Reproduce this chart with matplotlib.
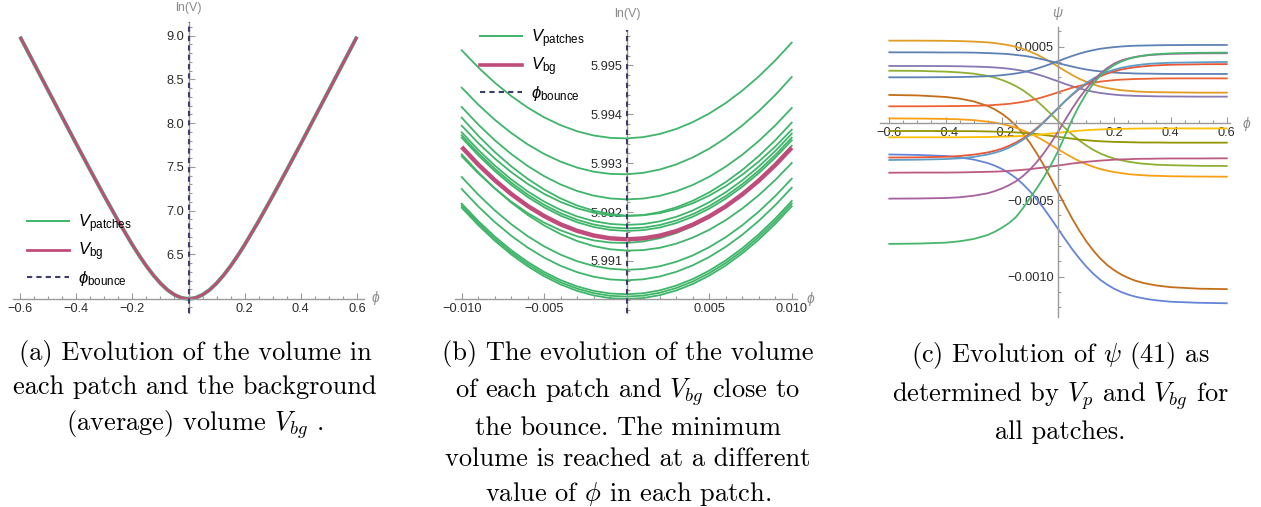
import matplotlib
matplotlib.use("Agg")
import matplotlib.pyplot as plt
from matplotlib.lines import Line2D
from matplotlib.ticker import MultipleLocator

plt.rcParams['font.family'] = ['Liberation Sans', 'DejaVu Sans']
plt.rcParams['mathtext.fontset'] = 'custom'
plt.rcParams['mathtext.rm'] = 'Liberation Sans'
plt.rcParams['mathtext.it'] = 'Liberation Sans:italic'
plt.rcParams['mathtext.fallback'] = 'stixsans'

# ---------------- data ----------------
phi_bounce = 0.0

# (a) ln(V) over the whole range (patches and background coincide here)
phi_a = [-0.6, -0.55, -0.5, -0.45, -0.4, -0.35, -0.3, -0.25, -0.2, -0.175, -0.15, -0.125,
         -0.1, -0.075, -0.05, -0.025, 0.0, 0.025, 0.05, 0.075, 0.1, 0.125, 0.15, 0.175,
         0.2, 0.25, 0.3, 0.35, 0.4, 0.45, 0.5, 0.55, 0.6]
lnv_a = [8.988, 8.682, 8.375, 8.070, 7.765, 7.464, 7.168, 6.881, 6.610, 6.484, 6.367, 6.262,
         6.170, 6.094, 6.038, 6.003, 5.991, 6.003, 6.038, 6.094, 6.170, 6.262, 6.367, 6.484,
         6.610, 6.881, 7.168, 7.464, 7.765, 8.070, 8.375, 8.682, 8.988]

# (b) close to the bounce: ln(V) - 5.99, in units of 1e-6
phi_b = [-0.010, -0.009, -0.008, -0.007, -0.006, -0.005, -0.004, -0.003, -0.002, -0.001, 0.0,
         0.001, 0.002, 0.003, 0.004, 0.005, 0.006, 0.007, 0.008, 0.009, 0.010]
patches_b = [
    [5307, 4958, 4646, 4372, 4135, 3936, 3775, 3651, 3565, 3517, 3506, 3532, 3596, 3698, 3838, 4015, 4229, 4482, 4772, 5099, 5464],
    [4543, 4197, 3888, 3617, 3383, 3187, 3029, 2908, 2825, 2780, 2772, 2802, 2869, 2974, 3116, 3296, 3514, 3769, 4062, 4393, 4761],
    [4148, 3790, 3469, 3186, 2941, 2733, 2563, 2430, 2335, 2278, 2258, 2276, 2331, 2424, 2554, 2722, 2928, 3171, 3452, 3771, 4127],
    [3930, 3561, 3229, 2935, 2678, 2459, 2277, 2133, 2027, 1958, 1927, 1934, 1978, 2060, 2179, 2336, 2530, 2762, 3032, 3339, 3684],
    [3766, 3412, 3095, 2816, 2575, 2371, 2205, 2077, 1986, 1933, 1917, 1939, 1998, 2095, 2230, 2402, 2612, 2860, 3145, 3468, 3828],
    [3630, 3272, 2951, 2667, 2421, 2213, 2043, 1910, 1814, 1757, 1737, 1754, 1809, 1902, 2032, 2200, 2405, 2648, 2929, 3247, 3603],
    [3569, 3209, 2887, 2603, 2356, 2147, 1975, 1841, 1745, 1686, 1665, 1681, 1735, 1827, 1956, 2123, 2327, 2569, 2849, 3166, 3521],
    [3521, 3161, 2839, 2554, 2307, 2097, 1925, 1791, 1694, 1635, 1614, 1630, 1683, 1774, 1903, 2070, 2274, 2516, 2795, 3112, 3466],
    [3180, 2814, 2486, 2195, 1941, 1726, 1548, 1407, 1304, 1239, 1212, 1222, 1269, 1354, 1477, 1637, 1835, 2071, 2344, 2655, 3003],
    [3139, 2793, 2484, 2213, 1979, 1783, 1625, 1504, 1421, 1376, 1368, 1398, 1465, 1570, 1712, 1892, 2110, 2365, 2658, 2989, 3357],
    [2716, 2357, 2036, 1752, 1506, 1298, 1127, 994, 898, 840, 819, 836, 891, 983, 1113, 1281, 1486, 1729, 2009, 2327, 2682],
    [2471, 2115, 1797, 1516, 1273, 1068, 900, 770, 677, 622, 605, 625, 682, 778, 911, 1081, 1289, 1535, 1819, 2140, 2498],
    [2171, 1817, 1500, 1221, 979, 775, 608, 479, 388, 335, 319, 340, 399, 496, 630, 802, 1012, 1259, 1544, 1866, 2226],
    [2130, 1775, 1457, 1177, 935, 730, 563, 434, 342, 288, 271, 292, 350, 446, 580, 751, 960, 1206, 1490, 1812, 2171],
    [2089, 1733, 1415, 1134, 891, 686, 518, 388, 295, 240, 223, 243, 301, 396, 529, 700, 908, 1154, 1437, 1758, 2117],
]
bg_b = [3330, 2972, 2652, 2369, 2124, 1917, 1747, 1615, 1520, 1463, 1443, 1461, 1517, 1610, 1741, 1910, 2116, 2360, 2641, 2960, 3316]

# (c) psi per patch, in units of 1e-4
phi_c = [-0.6, -0.5, -0.4, -0.35, -0.3, -0.25, -0.225, -0.2, -0.175, -0.15, -0.125, -0.1, -0.075,
         -0.05, -0.025, 0.0, 0.025, 0.05, 0.075, 0.1, 0.125, 0.15, 0.175, 0.2, 0.225, 0.25,
         0.275, 0.3, 0.325, 0.35, 0.4, 0.5, 0.6]
psi_c = [
    [5.39, 5.39, 5.38, 5.36, 5.33, 5.28, 5.23, 5.17, 5.09, 4.99, 4.85, 4.68, 4.48, 4.24, 3.98, 3.70, 3.42, 3.15, 2.91, 2.71, 2.54, 2.40, 2.30, 2.22, 2.16, 2.12, 2.08, 2.06, 2.04, 2.03, 2.02, 2.00, 2.00],
    [4.63, 4.63, 4.62, 4.62, 4.61, 4.58, 4.56, 4.54, 4.51, 4.46, 4.41, 4.34, 4.25, 4.15, 4.04, 3.92, 3.81, 3.70, 3.60, 3.51, 3.44, 3.39, 3.34, 3.31, 3.28, 3.27, 3.25, 3.24, 3.24, 3.23, 3.22, 3.22, 3.22],
    [3.74, 3.74, 3.73, 3.72, 3.70, 3.67, 3.64, 3.61, 3.56, 3.50, 3.42, 3.32, 3.20, 3.06, 2.90, 2.74, 2.57, 2.42, 2.28, 2.16, 2.06, 1.98, 1.92, 1.87, 1.83, 1.81, 1.79, 1.78, 1.77, 1.76, 1.75, 1.74, 1.74],
    [3.43, 3.42, 3.37, 3.32, 3.24, 3.09, 2.98, 2.83, 2.65, 2.43, 2.16, 1.83, 1.46, 1.04, 0.60, 0.14, -0.31, -0.73, -1.11, -1.44, -1.73, -1.96, -2.15, -2.30, -2.41, -2.50, -2.57, -2.63, -2.66, -2.70, -2.73, -2.77, -2.78],
    [3.00, 3.00, 3.01, 3.02, 3.04, 3.07, 3.10, 3.14, 3.19, 3.25, 3.33, 3.44, 3.57, 3.72, 3.88, 4.05, 4.23, 4.39, 4.54, 4.67, 4.77, 4.86, 4.92, 4.97, 5.01, 5.04, 5.06, 5.07, 5.08, 5.09, 5.10, 5.11, 5.11],
    [1.85, 1.82, 1.72, 1.61, 1.43, 1.13, 0.91, 0.63, 0.28, -0.15, -0.66, -1.27, -1.98, -2.76, -3.60, -4.48, -5.35, -6.20, -6.98, -7.68, -8.29, -8.81, -9.24, -9.58, -9.86, -10.08, -10.26, -10.39, -10.49, -10.57, -10.68, -10.78, -10.81],
    [1.11, 1.11, 1.12, 1.13, 1.14, 1.17, 1.20, 1.23, 1.27, 1.33, 1.40, 1.49, 1.60, 1.73, 1.87, 2.02, 2.17, 2.32, 2.44, 2.55, 2.64, 2.72, 2.77, 2.82, 2.85, 2.87, 2.89, 2.90, 2.91, 2.92, 2.93, 2.93, 2.93],
    [0.32, 0.31, 0.29, 0.26, 0.21, 0.11, 0.05, -0.04, -0.15, -0.29, -0.46, -0.65, -0.88, -1.14, -1.41, -1.69, -1.96, -2.22, -2.46, -2.66, -2.83, -2.98, -3.09, -3.18, -3.25, -3.31, -3.35, -3.38, -3.41, -3.42, -3.45, -3.47, -3.48],
    [-0.50, -0.50, -0.50, -0.51, -0.51, -0.53, -0.54, -0.55, -0.57, -0.59, -0.62, -0.66, -0.70, -0.76, -0.82, -0.88, -0.94, -1.00, -1.06, -1.10, -1.14, -1.17, -1.19, -1.21, -1.22, -1.23, -1.24, -1.25, -1.25, -1.25, -1.26, -1.26, -1.26],
    [-0.91, -0.91, -0.91, -0.91, -0.90, -0.89, -0.88, -0.87, -0.86, -0.84, -0.82, -0.79, -0.76, -0.71, -0.67, -0.62, -0.57, -0.53, -0.48, -0.45, -0.42, -0.40, -0.38, -0.37, -0.36, -0.35, -0.34, -0.34, -0.33, -0.33, -0.33, -0.33, -0.33],
    [-2.03, -2.06, -2.13, -2.22, -2.36, -2.59, -2.76, -2.97, -3.24, -3.56, -3.96, -4.43, -4.97, -5.56, -6.21, -6.88, -7.55, -8.20, -8.79, -9.33, -9.80, -10.20, -10.52, -10.79, -11.00, -11.17, -11.30, -11.40, -11.48, -11.54, -11.63, -11.70, -11.73],
    [-2.23, -2.22, -2.18, -2.13, -2.04, -1.90, -1.79, -1.65, -1.47, -1.25, -0.99, -0.67, -0.30, 0.11, 0.55, 0.99, 1.44, 1.85, 2.23, 2.55, 2.83, 3.06, 3.25, 3.39, 3.51, 3.59, 3.66, 3.71, 3.75, 3.78, 3.82, 3.85, 3.86],
    [-2.39, -2.37, -2.33, -2.28, -2.19, -2.03, -1.92, -1.78, -1.59, -1.36, -1.08, -0.75, -0.36, 0.07, 0.52, 0.99, 1.45, 1.89, 2.28, 2.62, 2.92, 3.16, 3.35, 3.50, 3.62, 3.71, 3.78, 3.84, 3.88, 3.91, 3.95, 3.98, 4.00],
    [-3.22, -3.21, -3.21, -3.20, -3.18, -3.16, -3.15, -3.13, -3.10, -3.07, -3.03, -2.99, -2.93, -2.88, -2.81, -2.75, -2.69, -2.62, -2.57, -2.51, -2.47, -2.43, -2.40, -2.37, -2.35, -2.34, -2.32, -2.31, -2.31, -2.30, -2.29, -2.29, -2.28],
    [-4.91, -4.90, -4.87, -4.82, -4.72, -4.56, -4.42, -4.25, -4.04, -3.78, -3.44, -3.02, -2.51, -1.93, -1.27, -0.55, 0.21, 0.96, 1.64, 2.24, 2.78, 3.24, 3.61, 3.90, 4.10, 4.23, 4.33, 4.40, 4.45, 4.48, 4.53, 4.56, 4.57],
    [-7.86, -7.84, -7.78, -7.69, -7.54, -7.28, -7.07, -6.81, -6.51, -6.12, -5.54, -4.87, -4.22, -3.50, -2.70, -1.82, -0.79, 0.24, 1.14, 1.93, 2.58, 3.11, 3.50, 3.80, 4.03, 4.20, 4.32, 4.40, 4.47, 4.51, 4.56, 4.60, 4.61],
]
colors_c = ['#E19C24', '#5E81B5', '#8778B3', '#8FB032', '#5E81B5', '#C56E1A', '#EB6235', '#F89F13',
            '#929600', '#FFBF00', '#6685D9', '#E95536', '#5D9EC7', '#BC5B80', '#A5609D', '#47B66D']

GREEN = '#3fb56a'
RED = '#c04c7c'
NAVY = '#3c3c6e'
AXG = '#9a9a9a'
TXT = '#2b2b2b'
LBL = '#8c8c8c'

W, H = 1261, 507
fig = plt.figure(figsize=(W / 100, H / 100), dpi=100)


def box(l, t, r, b):
    return fig.add_axes([l / W, 1 - b / H, (r - l) / W, (b - t) / H])


def style(ax, y0):
    for s in ['top', 'right']:
        ax.spines[s].set_visible(False)
    ax.spines['left'].set_position(('data', 0))
    ax.spines['bottom'].set_position(('data', y0))
    for s in ['left', 'bottom']:
        ax.spines[s].set_color(AXG)
        ax.spines[s].set_linewidth(1.0)
    ax.tick_params(which='both', direction='in', color=AXG, labelcolor=TXT,
                   labelsize=9.2, width=0.8, pad=3)
    ax.tick_params(which='major', length=4)
    ax.tick_params(which='minor', length=2.3)
    ax.patch.set_alpha(0)


def legend(ax, x, y, lw_bg):
    h = [Line2D([], [], color=GREEN, lw=1.4),
         Line2D([], [], color=RED, lw=lw_bg),
         Line2D([], [], color=NAVY, lw=1.5, ls=(0, (2.5, 2)))]
    lab = [r'$V_{\mathrm{patches}}$', r'$V_{\mathrm{bg}}$', r'$\phi_{\mathrm{bounce}}$']
    ax.legend(h, lab, loc='upper left', bbox_to_anchor=(x / W, 1 - y / H),
              bbox_transform=fig.transFigure, frameon=False, fontsize=12,
              handlelength=2.5, handletextpad=0.55, labelspacing=0.36,
              borderpad=0, borderaxespad=0)


# ---------------- (a) ----------------
ax = box(13.3, 21.7, 363.7, 313)
ax.plot(phi_a, lnv_a, color=GREEN, lw=2.8, solid_capstyle='butt')
ax.plot(phi_a, lnv_a, color=RED, lw=2.0, solid_capstyle='butt')
ax.axvline(phi_bounce, color=NAVY, lw=1.5, ls=(0, (2.5, 2)), zorder=3)
ax.set_xlim(-0.624, 0.624)
ax.set_ylim(5.83, 9.16)
style(ax, 5.99)
ax.set_xticks([-0.6, -0.4, -0.2, 0.2, 0.4, 0.6], ['\u22120.6', '\u22120.4', '\u22120.2', '0.2', '0.4', '0.6'])
ax.set_yticks([6.5, 7.0, 7.5, 8.0, 8.5, 9.0], ['6.5', '7.0', '7.5', '8.0', '8.5', '9.0'])
ax.xaxis.set_minor_locator(MultipleLocator(0.05))
ax.yaxis.set_minor_locator(MultipleLocator(0.1))
legend(ax, 27, 212, 2.0)
fig.text(188 / W, 1 - 8 / H, 'ln(V)', ha='center', va='center', color=LBL, fontsize=9)
fig.text(376 / W, 1 - 298 / H, r'$\phi$', ha='center', va='center', color=LBL, fontsize=10)

# ---------------- (b) ----------------
ax = box(455.1, 29.6, 796.7, 313.3)
for ys in patches_b:
    ax.plot(phi_b, ys, color=GREEN, lw=1.3)
ax.plot(phi_b, bg_b, color=RED, lw=3.2, solid_capstyle='butt')
ax.axvline(phi_bounce, color=NAVY, lw=1.5, ls=(0, (2.5, 2)), zorder=3)
ax.set_xlim(-0.0104, 0.0103)
ax.set_ylim(-70, 5730)
style(ax, 220)
ax.set_xticks([-0.01, -0.005, 0.005, 0.01], ['\u22120.010', '\u22120.005', '0.005', '0.010'])
ax.set_yticks([1000, 2000, 3000, 4000, 5000], ['5.991', '5.992', '5.993', '5.994', '5.995'])
ax.xaxis.set_minor_locator(MultipleLocator(0.001))
ax.yaxis.set_minor_locator(MultipleLocator(200))
legend(ax, 480, 27, 2.6)
fig.text(627 / W, 1 - 14 / H, 'ln(V)', ha='center', va='center', color=LBL, fontsize=9)
fig.text(811 / W, 1 - 299 / H, r'$\phi$', ha='center', va='center', color=LBL, fontsize=10)

# ---------------- (c) ----------------
ax = box(880.3, 26.7, 1229.6, 316.6)
for ys, c in zip(psi_c, colors_c):
    ax.plot(phi_c, ys, color=c, lw=1.3)
ax.set_xlim(-0.632, 0.61)
ax.set_ylim(-12.6, 6.3)
style(ax, 0)
ax.set_xticks([-0.6, -0.4, -0.2, 0.2, 0.4, 0.6], ['\u22120.6', '\u22120.4', '\u22120.2', '0.2', '0.4', '0.6'])
ax.set_yticks([5, -5, -10], ['0.0005', '\u22120.0005', '\u22120.0010'])
ax.xaxis.set_minor_locator(MultipleLocator(0.05))
ax.yaxis.set_minor_locator(MultipleLocator(1))
fig.text(1058 / W, 1 - 13 / H, r'$\psi$', ha='center', va='center', color=LBL, fontsize=10)
fig.text(1247 / W, 1 - 124 / H, r'$\phi$', ha='center', va='center', color=LBL, fontsize=10)

# ---------------- captions ----------------
cap = dict(ha='center', va='top', fontsize=19, family='cmr10', math_fontfamily='cm',
           linespacing=1.42, multialignment='center')
fig.text(195 / W, 1 - 340 / H,
         "(a) Evolution of the volume in\neach patch and the background\n(average) volume $V_{bg}$ .", **cap)
fig.text(628 / W, 1 - 340 / H,
         "(b) The evolution of the volume\nof each patch and $V_{bg}$ close to\nthe bounce. The minimum\n"
         "volume is reached at a different\nvalue of $\\phi$ in each patch.", **cap)
fig.text(1060 / W, 1 - 340 / H,
         "(c) Evolution of $\\psi$ (41) as\ndetermined by $V_p$ and $V_{bg}$ for\nall patches.", **cap)

fig.savefig('out.png', dpi=100)
